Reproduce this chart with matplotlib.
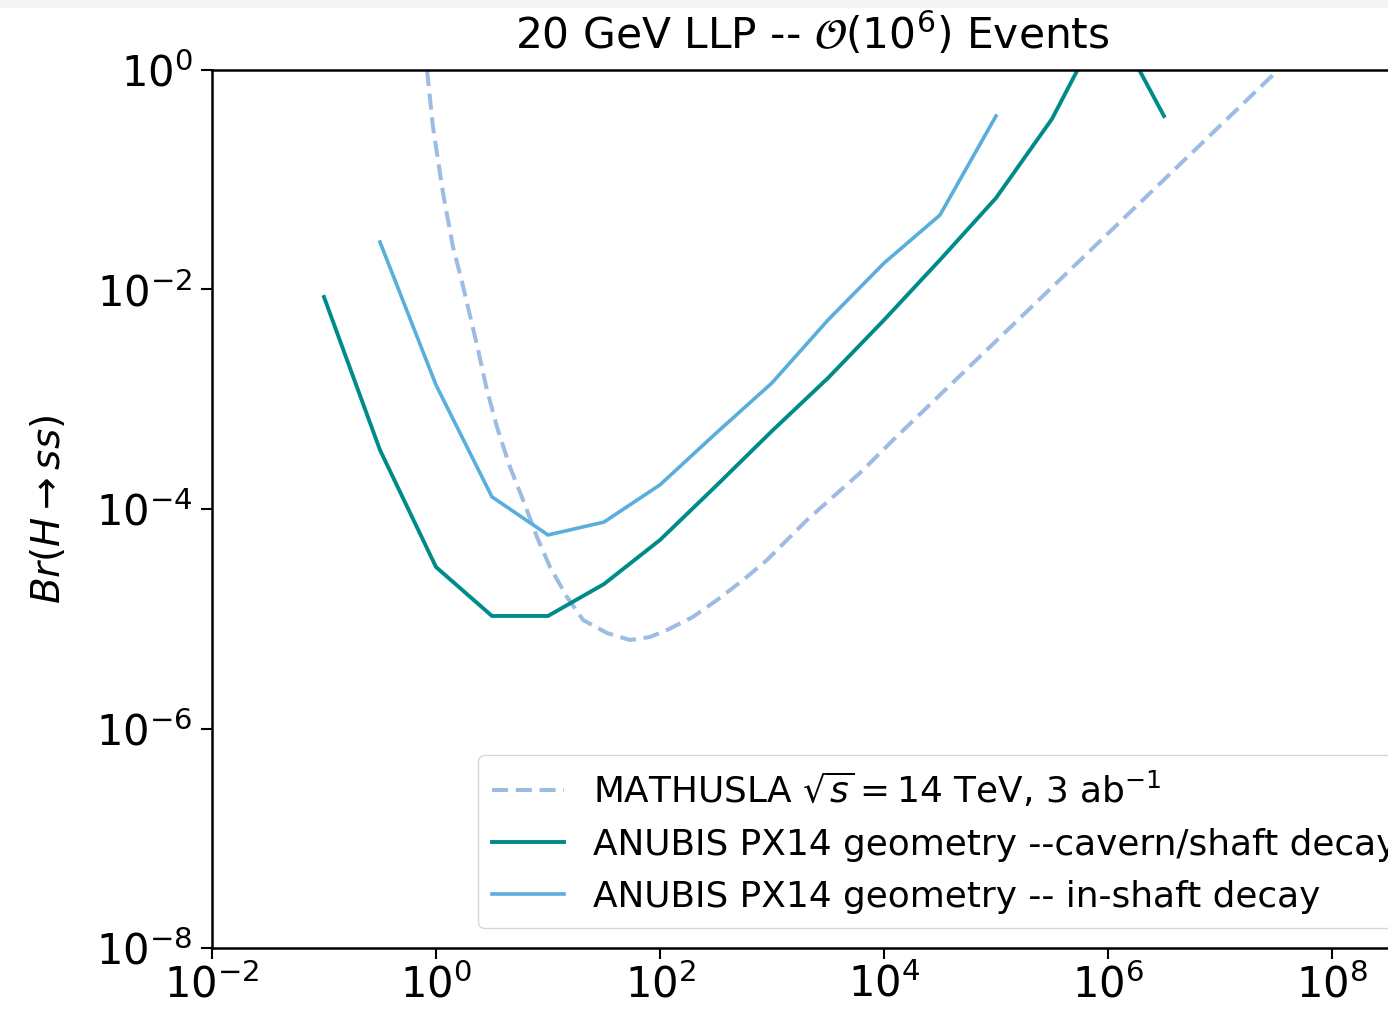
import numpy as np
import matplotlib.pyplot as plt
from matplotlib.patches import Rectangle

# Proper decay length grid (m) for the ANUBIS curves
ctau_cavern = [0.1, 0.316, 1.0, 3.16, 10.0, 31.6, 100.0, 316.0, 1e3, 3.16e3,
               1e4, 3.16e4, 1e5, 3.16e5, 1e6, 3.16e6]
br_cavern = [8.55e-3, 3.45e-4, 2.96e-5, 1.06e-5, 1.06e-5, 2.07e-5, 5.22e-5,
             1.62e-4, 5.14e-4, 1.56e-3, 5.27e-3, 1.86e-2, 6.82e-2, 0.358,
             3.4, 0.381]

ctau_shaft = [0.316, 1.0, 3.16, 10.0, 31.6, 100.0, 316.0, 1e3, 3.16e3,
              1e4, 3.16e4, 1e5]
br_shaft = [2.71e-2, 1.35e-3, 1.29e-4, 5.8e-5, 7.6e-5, 1.66e-4, 4.9e-4,
            1.41e-3, 5.27e-3, 1.74e-2, 4.77e-2, 0.381]

# MATHUSLA projection
ctau_mathusla = [0.831, 0.940, 1.155, 1.418, 1.707, 2.323, 2.854, 3.504,
                 4.579, 5.981, 7.977, 10.42, 14.78, 20.54, 33.64, 53.96,
                 81.4, 115.5, 197.1, 322.8, 550.9, 902.6, 1361.0, 2053.0,
                 3505.0, 6107.0, 1.204e4, 3.30e7]
br_mathusla = [1.0, 0.303, 7.57e-2, 2.44e-2, 1.17e-2, 3.12e-3, 1.21e-3,
               5.58e-4, 2.41e-4, 1.21e-4, 5.56e-5, 2.96e-5, 1.58e-5, 9.75e-6,
               7.41e-6, 6.40e-6, 6.82e-6, 7.89e-6, 1.04e-5, 1.48e-5, 2.25e-5,
               3.43e-5, 5.22e-5, 7.94e-5, 1.29e-4, 2.13e-4, 4.25e-4, 1.0]

xticks = [1e-2, 1e0, 1e2, 1e4, 1e6, 1e8]
yticks = [1e-8, 1e-6, 1e-4, 1e-2, 1e0]

fig = plt.figure(figsize=(13.88, 10.18), dpi=100)
# axes run past the right edge of the canvas
ax = fig.add_axes([212/1388, 70/1018, 1200/1388, 878/1018])

ax.plot(ctau_mathusla, br_mathusla, '--', color='#9dbce3', lw=2.9,
        dashes=(4, 1.9),
        label=r'MATHUSLA $\sqrt{s}=14$ TeV, 3 ab$^{-1}$')
ax.plot(ctau_cavern, br_cavern, color='#008b8b', lw=2.8,
        label='ANUBIS PX14 geometry --cavern/shaft decay')
ax.plot(ctau_shaft, br_shaft, color='#5aaedb', lw=2.6,
        label='ANUBIS PX14 geometry -- in-shaft decay')

ax.set_xscale('log')
ax.set_yscale('log')
ax.set_xlim(1e-2, 5.18e8)
ax.set_ylim(1e-8, 1e0)
ax.set_xticks(xticks)
ax.set_yticks(yticks)
ax.minorticks_off()
ax.tick_params(labelsize=30, length=8, width=1.5)
ax.tick_params(axis='y', pad=6)
for s in ax.spines.values():
    s.set_linewidth(1.8)

ax.set_ylabel(r'$Br(H{\rightarrow}ss)$', fontsize=28, labelpad=20)
ax.set_title(r'20 GeV LLP -- $\mathcal{O}(10^6)$ Events', fontsize=30.5, pad=15)

ax.legend(loc='lower left', bbox_to_anchor=(478/1388, 90/1018),
          bbox_transform=fig.transFigure, borderaxespad=0, fontsize=25.8,
          handlelength=2.0, framealpha=0.8)

fig.add_artist(Rectangle((0, 1 - 7/1018), 1, 7/1018, color='#f3f5f5',
                         transform=fig.transFigure, zorder=-1))

fig.savefig('out.png', dpi=100)
